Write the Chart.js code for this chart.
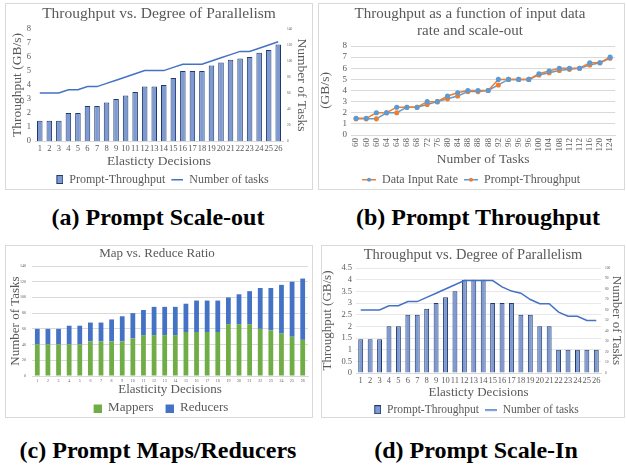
<!DOCTYPE html>
<html>
<head>
<meta charset="utf-8">
<script src="https://cdn.jsdelivr.net/npm/chart.js@4.4.1/dist/chart.umd.min.js"></script>
<style>
  body { margin: 0; background: #fff; }
  #page { position: relative; width: 626px; height: 465px; overflow: hidden; background: #fff; }
  .panel { position: absolute; border: 1px solid #d9d9d9; }
  .panel canvas { display: block; }
  .cap { position: absolute; text-align: center; white-space: nowrap; line-height: 24px;
         font: bold 24px "Liberation Serif", "Times New Roman", serif; color: #000; }
</style>
</head>
<body>
<div id="page">
  <div class="panel" style="left:5px;top:3px"><canvas id="scaleOut" width="306" height="185"></canvas></div>
  <div class="panel" style="left:318px;top:3px"><canvas id="throughput" width="305" height="185"></canvas></div>
  <div class="panel" style="left:5px;top:245px"><canvas id="mapReduce" width="306" height="171"></canvas></div>
  <div class="panel" style="left:321px;top:245px"><canvas id="scaleIn" width="302" height="171"></canvas></div>
  <div class="cap" style="left:8px;width:300px;top:204px">(a) Prompt Scale-out</div>
  <div class="cap" style="left:328px;width:300px;top:204px">(b) Prompt Throughput</div>
  <div class="cap" style="left:8px;width:300px;top:437px">(c) Prompt Maps/Reducers</div>
  <div class="cap" style="left:326px;width:300px;top:437px">(d) Prompt Scale-In</div>
</div>
<script>
// values
const decisions = ['1','2','3','4','5','6','7','8','9','10','11','12','13','14','15','16','17','18','19','20','21','22','23','24','25','26'];
const taskCounts = [60,60,60,64,64,68,68,72,76,80,84,88,88,88,92,96,96,96,100,104,108,112,112,116,120,124];
const scaleOutThroughput = [1.45,1.45,1.45,2,2,2.5,2.5,2.75,3,3.25,3.5,3.9,3.9,4,4.5,5,5,5,5.4,5.6,5.8,5.9,6,6.3,6.5,6.9];
const inputRate = [1.5,1.5,2,2,2.5,2.5,2.5,3,3,3.5,3.8,4,4,4,5,5,5,5,5.5,5.75,6,6,6,6.5,6.5,7];
const mappers = [40,40,40,40,40,44,44,44,44,48,52,52,52,52,56,56,56,56,66,66,66,60,58,54,50,46];
const reducers = [20,20,20,24,24,24,24,28,32,32,32,36,36,36,36,40,40,40,34,38,42,52,54,62,70,78];
const scaleInThroughput = [1.45,1.45,1.45,2,2,2.5,2.5,2.75,3,3.25,3.5,4,4,4,3,3,3,2.5,2.5,2,2,1,1,1,1,1];
const scaleInTasks = [60,60,60,64,64,68,68,72,76,80,84,88,88,88,88,82,78,76,70,66,66,58,54,54,50,50];

const BAR_FILL = '#7d9bd2';
const BAR_EDGE = '#22396b';
const TASK_LINE = '#4472c4';
const BLUE = '#5b9bd5';
const ORANGE = '#ed7d31';
const GREEN = '#70ad47';
const DARK_BLUE = '#4472c4';

Chart.defaults.font.family = '"Liberation Serif", "Times New Roman", serif';
Chart.defaults.color = '#595959';
Chart.defaults.animation = false;
Chart.defaults.plugins.tooltip.enabled = false;

function icon(w, h, draw) {
  const c = document.createElement('canvas');
  c.width = w; c.height = h;
  draw(c.getContext('2d'));
  return c;
}
const barIcon = icon(14, 9, g => {
  g.fillStyle = BAR_FILL; g.fillRect(7, 0, 7, 9);
  g.strokeStyle = BAR_EDGE; g.lineWidth = 1; g.strokeRect(7.5, 0.5, 6, 8);
});
const taskIcon = icon(14, 9, g => { g.fillStyle = TASK_LINE; g.fillRect(2, 4, 12, 1.5); });
function markerIcon(lineCol, dotCol) {
  return icon(16, 9, g => {
    g.fillStyle = lineCol; g.fillRect(2, 4, 14, 1.5);
    g.fillStyle = dotCol; g.beginPath(); g.arc(9, 4.7, 2, 0, Math.PI * 2); g.fill();
  });
}
function squareIcon(col) {
  return icon(16, 9, g => { g.fillStyle = col; g.fillRect(8, 1, 8, 8); });
}
function legendWith(icons) {
  return chart => Chart.defaults.plugins.legend.labels.generateLabels(chart)
    .map(item => Object.assign(item, { pointStyle: icons[item.datasetIndex] }));
}
const byDataset = (a, b) => a.datasetIndex - b.datasetIndex;

function parallelismChart(id, values, tasks, yMax, yStep, y1Max, y1Step, sz) {
  return new Chart(document.getElementById(id), {
    type: 'bar',
    data: {
      labels: decisions,
      datasets: [{
        type: 'bar', label: 'Prompt-Throughput', data: values, yAxisID: 'y',
        backgroundColor: BAR_FILL, borderColor: BAR_EDGE, borderWidth: 1,
        barPercentage: sz.bar, categoryPercentage: 1, order: 2
      }, {
        type: 'line', label: 'Number of tasks', data: tasks, yAxisID: 'y1',
        borderColor: TASK_LINE, borderWidth: 1.5, pointRadius: 0, tension: 0, order: 1
      }]
    },
    options: {
      responsive: false,
      layout: { padding: { left: 0, right: 0, top: 0, bottom: sz.padBottom } },
      plugins: {
        title: { display: true, text: 'Throughput vs. Degree of Parallelism',
                 font: { size: sz.title, weight: 'normal' }, padding: sz.titlePad },
        legend: { position: 'bottom',
                  labels: { font: { size: sz.legend }, usePointStyle: true, pointStyleWidth: 14,
                            padding: 4, sort: byDataset, generateLabels: legendWith([barIcon, taskIcon]) } }
      },
      scales: {
        x: {
          grid: { display: false, drawTicks: false }, border: { color: '#d9d9d9' },
          ticks: { font: { size: 8.5 }, padding: 3, autoSkip: false, maxRotation: 0 },
          title: { display: true, text: 'Elasticty Decisions', font: { size: sz.axis }, padding: 0 },
          afterFit: s => { s.height = sz.xHeight; }
        },
        y: {
          min: 0, max: yMax,
          ticks: { stepSize: yStep, font: { size: 8.5 }, padding: 4, autoSkip: false, callback: v => String(v) },
          grid: { display: sz.grid, color: '#e8e8e8', drawTicks: false },
          border: { display: false },
          title: { display: true, text: 'Throughput (GB/s)', font: { size: sz.axis }, padding: { top: sz.yTitlePad, bottom: 0 } },
          afterFit: s => { s.width = sz.yWidth; }
        },
        y1: {
          position: 'right', min: 0, max: y1Max,
          ticks: { stepSize: y1Step, font: { size: 3.5 }, padding: 4, autoSkip: false },
          grid: { display: false, drawTicks: false }, border: { display: false },
          title: { display: true, text: 'Number of Tasks', font: { size: sz.axis }, padding: { top: sz.y1TitlePad, bottom: 0 } },
          afterFit: s => { s.width = sz.y1Width; }
        }
      }
    }
  });
}

// (a) scale-out
parallelismChart('scaleOut', scaleOutThroughput, taskCounts, 8, 1, 140, 20, {
  bar: 0.58, title: 15.5, titlePad: { top: 1, bottom: 5.4 }, legend: 12, axis: 13.5,
  xHeight: 28.5, yWidth: 29, y1Width: 29, yTitlePad: 3, y1TitlePad: 2, padBottom: -6.5, grid: false
});

// (b) throughput vs input rate
new Chart(document.getElementById('throughput'), {
  type: 'line',
  data: {
    labels: taskCounts.map(String),
    datasets: [{
      label: 'Data Input Rate', data: inputRate,
      borderColor: ORANGE, borderWidth: 1.5, pointRadius: 1.8,
      pointBackgroundColor: BLUE, pointBorderColor: BLUE, tension: 0
    }, {
      label: 'Prompt-Throughput', data: scaleOutThroughput,
      borderColor: BLUE, borderWidth: 1.5, pointRadius: 1.8,
      pointBackgroundColor: ORANGE, pointBorderColor: ORANGE, tension: 0
    }]
  },
  options: {
    responsive: false,
    layout: { padding: { left: 0, right: 3, top: 0, bottom: -6.5 } },
    plugins: {
      title: { display: true, text: ['Throughput as a function of input data', 'rate and scale-out'],
               font: { size: 15, weight: 'normal', lineHeight: 1.1 }, padding: { top: 2, bottom: 7 } },
      legend: { position: 'bottom',
                labels: { font: { size: 12 }, usePointStyle: true, pointStyleWidth: 16, padding: 4, sort: byDataset,
                          generateLabels: legendWith([markerIcon(ORANGE, BLUE), markerIcon(BLUE, ORANGE)]) } }
    },
    scales: {
      x: {
        offset: true,
        grid: { display: false, drawTicks: false }, border: { color: '#d9d9d9' },
        ticks: { font: { size: 9 }, padding: 3, autoSkip: false, minRotation: 90, maxRotation: 90 },
        title: { display: true, text: 'Number of Tasks', font: { size: 13.5 }, padding: { top: 0, bottom: 2 } },
        afterFit: s => { s.height = 34.5; }
      },
      y: {
        min: 0, max: 8,
        ticks: { stepSize: 1, font: { size: 9 }, padding: 4, autoSkip: false },
        grid: { color: '#d9d9d9', drawTicks: false }, border: { display: false },
        title: { display: true, text: '(GB/s)', font: { size: 13.5 }, padding: { top: -2, bottom: 0 } },
        afterFit: s => { s.width = 32; }
      }
    }
  }
});

// (c) mappers vs reducers
new Chart(document.getElementById('mapReduce'), {
  type: 'bar',
  data: {
    labels: decisions,
    datasets: [{
      label: 'Mappers', data: mappers, backgroundColor: GREEN,
      barPercentage: 0.45, categoryPercentage: 1
    }, {
      label: 'Reducers', data: reducers, backgroundColor: DARK_BLUE,
      barPercentage: 0.45, categoryPercentage: 1
    }]
  },
  options: {
    responsive: false,
    layout: { padding: { left: 0, right: 4, top: 0, bottom: -7.5 } },
    plugins: {
      title: { display: true, text: 'Map vs. Reduce Ratio',
               font: { size: 13, weight: 'normal' }, padding: { top: 0, bottom: 4.4 } },
      legend: { position: 'bottom',
                labels: { font: { size: 13 }, usePointStyle: true, pointStyleWidth: 16, padding: 4, sort: byDataset,
                          generateLabels: legendWith([squareIcon(GREEN), squareIcon(DARK_BLUE)]) } }
    },
    scales: {
      x: {
        stacked: true,
        grid: { display: false, drawTicks: false }, border: { color: '#d9d9d9' },
        ticks: { font: { size: 4 }, padding: 3, autoSkip: false, maxRotation: 0 },
        title: { display: true, text: 'Elasticity Decisions', font: { size: 13 }, padding: 0 },
        afterFit: s => { s.height = 21.5; }
      },
      y: {
        stacked: true, min: 0, max: 140,
        ticks: { stepSize: 20, font: { size: 4 }, padding: 6, autoSkip: false },
        grid: { color: '#d9d9d9', drawTicks: false }, border: { display: false },
        title: { display: true, text: 'Number of Tasks', font: { size: 13 }, padding: { top: 2, bottom: 0 } },
        afterFit: s => { s.width = 26; }
      }
    }
  }
});

// (d) scale-in
parallelismChart('scaleIn', scaleInThroughput, scaleInTasks, 4.5, 0.5, 100, 10, {
  bar: 0.52, title: 14.5, titlePad: { top: 0, bottom: 4.6 }, legend: 11.5, axis: 13,
  xHeight: 27, yWidth: 34, y1Width: 23, yTitlePad: -2, y1TitlePad: 0, padBottom: -8.5, grid: true
});
</script>
</body>
</html>
